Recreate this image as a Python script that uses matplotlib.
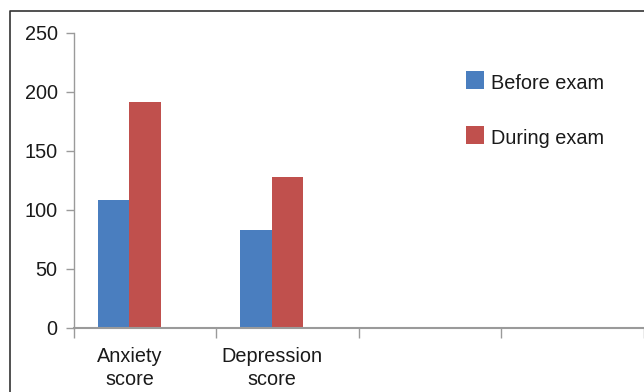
import matplotlib
matplotlib.use("Agg")
import matplotlib.pyplot as plt
import numpy as np
from matplotlib.lines import Line2D
from matplotlib.patches import Rectangle

categories = ["Anxiety\nscore", "Depression\nscore", "", ""]
before_exam = [108, 83, None, None]
during_exam = [191, 128, None, None]
series_names = ["Before exam", "During exam"]
yticks = [0, 50, 100, 150, 200, 250]

plt.rcParams["font.family"] = ["Liberation Sans", "DejaVu Sans"]

W, H = 644, 392
fig = plt.figure(figsize=(W / 100, H / 100), dpi=100)
fig.patch.set_facecolor("white")

ax_l, ax_r, ax_t, ax_b = 74, 643.5, 32.7, 327.7
ax = fig.add_axes([ax_l / W, 1 - ax_b / H, (ax_r - ax_l) / W, (ax_b - ax_t) / H])

blue = "#4A7EBF"
red = "#C0504D"
axis_col = "#9A9A9A"
txt_col = "#1a1a1a"
fs = 14.3

n = len(categories)
bw = 1 / 4.5
bx = [i for i, v in enumerate(before_exam) if v is not None]
bv = [v for v in before_exam if v is not None]
dx = [i for i, v in enumerate(during_exam) if v is not None]
dv = [v for v in during_exam if v is not None]
ax.bar(np.array(bx) - bw, bv, width=bw, color=blue, align="center", linewidth=0)
ax.bar(np.array(dx), dv, width=bw, color=red, align="center", linewidth=0)

ax.set_xlim(-0.5, n - 0.5)
ax.set_ylim(0, 250)
ax.set_yticks(yticks)
ax.set_yticklabels([str(t) for t in yticks], fontsize=fs, color=txt_col)

# category boundary ticks
ax.set_xticks(np.arange(n + 1) - 0.5)
ax.set_xticklabels([])
ax.tick_params(axis="x", direction="out", length=7.2, width=1, color=axis_col)
ax.tick_params(axis="y", direction="out", length=5.8, width=1, color=axis_col, pad=6.0)

# category labels centered on bar groups (two lines with fixed baselines)
ax_h = ax_b - ax_t
baselines_px = [362.3, 385.0]
for i, lab in enumerate(categories):
    if lab:
        for line, bpx in zip(lab.split("\n"), baselines_px):
            ax.text(i - bw / 2, (ax_b - bpx) / ax_h, line,
                    transform=ax.get_xaxis_transform(),
                    ha="center", va="baseline", fontsize=fs, color=txt_col)

for s in ["top", "right"]:
    ax.spines[s].set_visible(False)
ax.spines["left"].set_color(axis_col)
ax.spines["bottom"].set_color(axis_col)
ax.spines["left"].set_linewidth(1)
ax.spines["bottom"].set_linewidth(1.5)

# legend
leg_items = [(series_names[0], blue, 71, 89.3), (series_names[1], red, 126, 143.5)]
for name, col, sq_top, base in leg_items:
    fig.add_artist(Rectangle((466 / W, 1 - (sq_top + 17.5) / H), 18 / W, 17.5 / H,
                             transform=fig.transFigure, facecolor=col, edgecolor="none"))
    fig.text(491 / W, 1 - base / H, name, ha="left", va="baseline",
             fontsize=fs, color=txt_col)

# outer border (left and top visible)
fig.add_artist(Line2D([10 / W, 10 / W, 1.0], [0.0, 1 - 11 / H, 1 - 11 / H],
                      transform=fig.transFigure, color="#333333", linewidth=1.2))

fig.savefig("out.png", dpi=100, facecolor="white")
